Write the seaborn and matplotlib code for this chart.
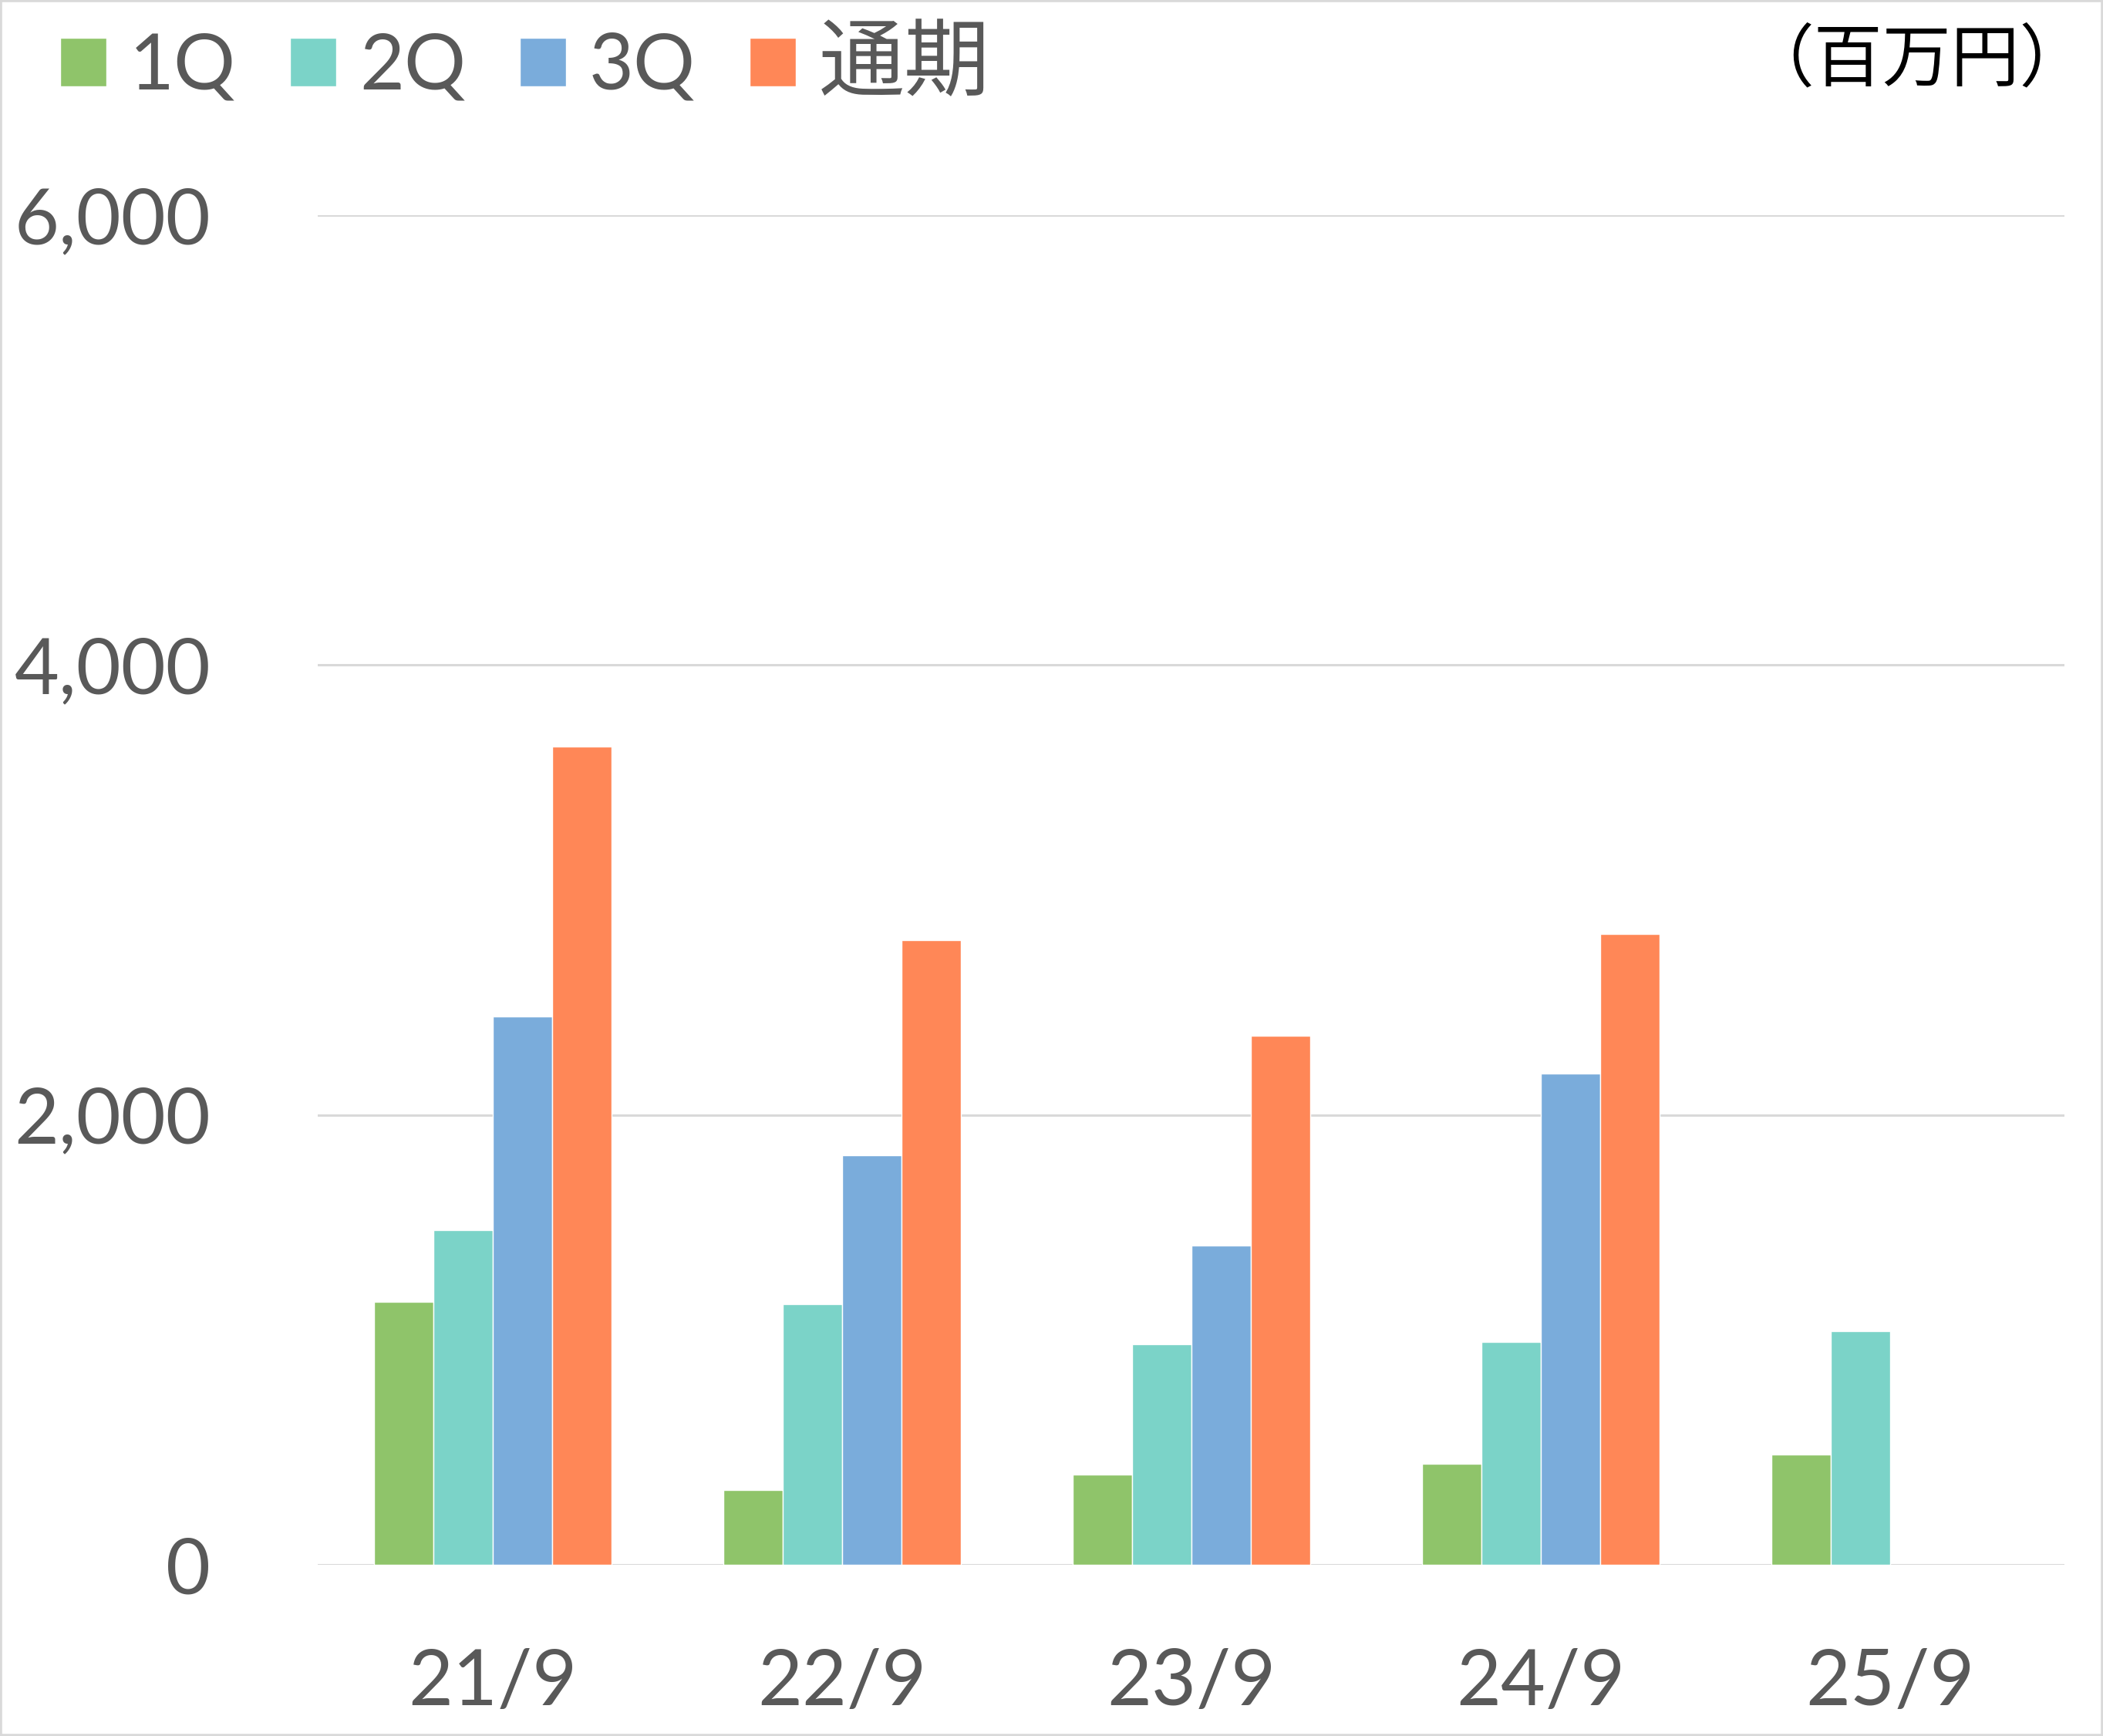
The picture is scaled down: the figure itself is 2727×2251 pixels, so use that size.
import pandas as pd
import numpy as np
import matplotlib
matplotlib.use("Agg")
import matplotlib.pyplot as plt
from matplotlib.patches import Rectangle
import seaborn as sns

# values in 百万円
periods = ["21/9", "22/9", "23/9", "24/9", "25/9"]
quarters = ["1Q", "2Q", "3Q", "通期"]
q1 = [1170, 334, 400, 448, 490]
q2 = [1487, 1158, 979, 991, 1039]
q3 = [2436, 1821, 1421, 2185, np.nan]
full_year = [3636, 2776, 2352, 2806, np.nan]
colors = ["#8FC46A", "#7BD3C8", "#7AACDB", "#FF8757"]
yticks = [0, 2000, 4000, 6000]

rows = []
for q, vals in zip(quarters, [q1, q2, q3, full_year]):
    for p, v in zip(periods, vals):
        rows.append({"period": p, "quarter": q, "value": v})
df = pd.DataFrame(rows)

sns.set_theme(style="white")
plt.rcParams["font.family"] = ["Lato", "Noto Sans CJK JP", "DejaVu Sans"]

fig = plt.figure(figsize=(27.27, 22.51), dpi=100)
ax = fig.add_axes([0.1511, 0.0986, 0.8306, 0.7775])

sns.barplot(data=df, x="period", y="value", hue="quarter", order=periods,
            hue_order=quarters, palette=colors, saturation=1, width=0.68,
            ax=ax)

ax.set_xlim(-0.5, 4.5)
ax.set_ylim(0, 6000)
ax.set_yticks(yticks)
ax.set_yticklabels([f"{t:,}" for t in yticks])
ax.set_xlabel("")
ax.set_ylabel("")
ax.grid(axis="y", color="#D9D9D9", linewidth=2.2)
ax.set_axisbelow(True)
for s in ax.spines.values():
    s.set_visible(False)
ax.tick_params(axis="both", length=0, labelsize=72, colors="#595959")
ax.tick_params(axis="y", pad=100)
ax.tick_params(axis="x", pad=78)

sns.move_legend(ax, "center left", bbox_to_anchor=(78 / 2727, 0.9625),
                bbox_transform=fig.transFigure, ncol=4, frameon=False,
                title=None, fontsize=72, handlelength=0.6, handleheight=0.6,
                handletextpad=0.3, columnspacing=0.70, borderpad=0,
                borderaxespad=0)
for t in ax.get_legend().get_texts():
    t.set_color("#595959")
ax.get_legend().get_texts()[-1].set_fontsize(80)

fig.text(0.993, 0.965, "（百万円）", ha="right", va="center", fontsize=64,
         color="black", family=["Noto Sans CJK JP", "DejaVu Sans"])

fig.patches.append(Rectangle((0, 0), 1, 1, transform=fig.transFigure,
                             fill=False, edgecolor="#D9D9D9", linewidth=4))

fig.savefig("out.png", dpi=100)
